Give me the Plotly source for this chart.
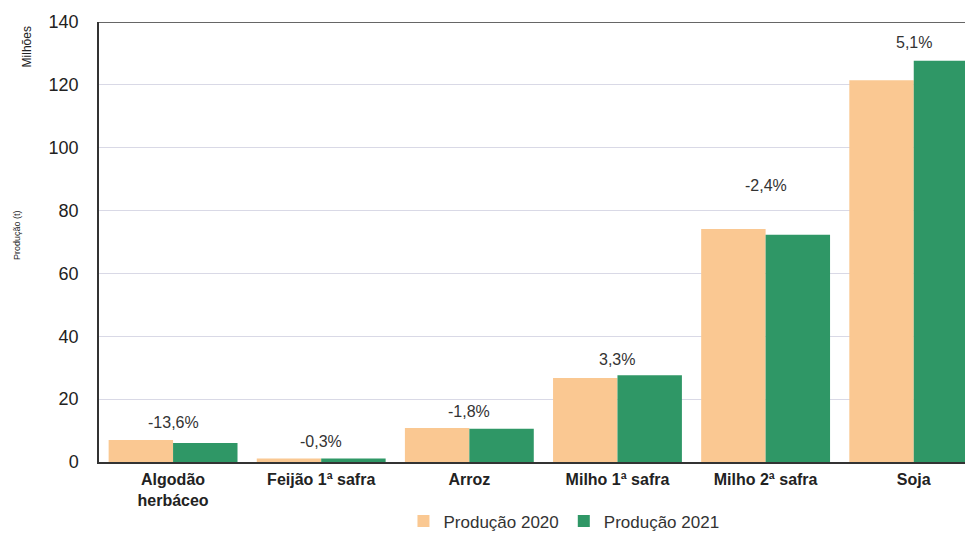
import plotly.graph_objects as go

categories = ["Algodão<br>herbáceo", "Feijão 1ª safra", "Arroz", "Milho 1ª safra", "Milho 2ª safra", "Soja"]
prod_2020 = [7.0, 1.1, 10.8, 26.7, 74.1, 121.5]
prod_2021 = [6.05, 1.1, 10.6, 27.6, 72.3, 127.7]
var_labels = ["-13,6%", "-0,3%", "-1,8%", "3,3%", "-2,4%", "5,1%"]
label_y = [12.7, 6.4, 16.2, 32.5, 88.0, 133.6]
y_ticks = [0, 20, 40, 60, 80, 100, 120, 140]

c2020 = "#FAC892"
c2021 = "#2F9766"

fig = go.Figure()
fig.add_trace(go.Bar(name="Produção 2020", x=categories, y=prod_2020, marker_color=c2020,
                     marker_line_width=0))
fig.add_trace(go.Bar(name="Produção 2021", x=categories, y=prod_2021, marker_color=c2021,
                     marker_line_width=0))

for c, t, yv in zip(categories, var_labels, label_y):
    fig.add_annotation(x=c, y=yv, text=t, showarrow=False, xref="x", yref="y",
                       font=dict(family="Arial", size=16, color="#333333"))

fig.add_shape(type="line", xref="paper", yref="y", x0=0, x1=1, y0=140, y1=140,
              line=dict(color="#333333", width=1.5))

fig.add_annotation(text="Milhões", xref="paper", yref="paper", x=-0.082, y=0.943,
                   textangle=-90, showarrow=False, xanchor="center", yanchor="middle",
                   font=dict(family="Arial", size=12, color="#222222"))
fig.add_annotation(text="Produção (t)", xref="paper", yref="paper", x=-0.093, y=0.515,
                   textangle=-90, showarrow=False, xanchor="center", yanchor="middle",
                   font=dict(family="Arial", size=9, color="#222222"))

fig.update_layout(
    width=965, height=528,
    margin=dict(l=91, r=0, t=14, b=74, autoexpand=False),
    paper_bgcolor="white", plot_bgcolor="white",
    barmode="group", bargap=0.13, bargroupgap=0,
    font=dict(family="Arial", color="#222222"),
    showlegend=True,
    legend=dict(orientation="h", x=0.532, xanchor="center", y=-0.135, yanchor="middle",
                font=dict(family="Arial", size=17, color="#333333"),
                itemwidth=30, traceorder="normal"),
    xaxis=dict(range=[-0.5, 5.4], showline=True, linecolor="#333333", linewidth=1.5,
               showgrid=False, ticks="", ticklabelstandoff=2,
               tickfont=dict(family="Arial", size=16, color="#222222", weight="bold")),
    yaxis=dict(range=[0, 140], tickvals=y_ticks, showline=True, linecolor="#333333", linewidth=1.5,
               showgrid=True, gridcolor="#D9D9E6", gridwidth=1, zeroline=False, ticks="",
               ticklabelstandoff=15,
               tickfont=dict(family="Arial", size=18, color="#222222")),
)

fig.write_html("out.html")
